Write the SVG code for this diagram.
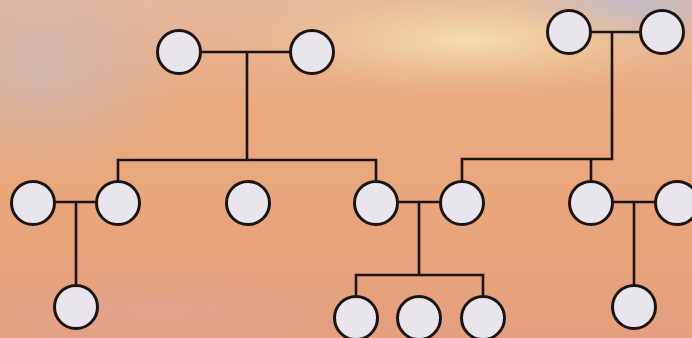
<svg xmlns="http://www.w3.org/2000/svg" width="692" height="338" viewBox="0 0 692 338">
<defs>
<linearGradient id="bg" x1="0" y1="0" x2="0" y2="1">
<stop offset="0" stop-color="#e4b89c"/>
<stop offset="0.3" stop-color="#eaab80"/>
<stop offset="0.7" stop-color="#e8a47a"/>
<stop offset="1" stop-color="#e4a07e"/>
</linearGradient>
<radialGradient id="glow" cx="0.5" cy="0.5" r="0.5">
<stop offset="0" stop-color="#f8e6b4" stop-opacity="0.85"/>
<stop offset="0.55" stop-color="#f4d2a0" stop-opacity="0.45"/>
<stop offset="1" stop-color="#f0c090" stop-opacity="0"/>
</radialGradient>
<radialGradient id="blueL" cx="0.5" cy="0.5" r="0.5">
<stop offset="0" stop-color="#cdb8b4" stop-opacity="0.85"/>
<stop offset="1" stop-color="#d0b4ac" stop-opacity="0"/>
</radialGradient>
<radialGradient id="blueR" cx="0.5" cy="0.5" r="0.5">
<stop offset="0" stop-color="#bcbccc" stop-opacity="0.85"/>
<stop offset="1" stop-color="#c4bcc4" stop-opacity="0"/>
</radialGradient>
<radialGradient id="pink" cx="0.5" cy="0.5" r="0.5">
<stop offset="0" stop-color="#dea4a0" stop-opacity="0.45"/>
<stop offset="1" stop-color="#dea4a0" stop-opacity="0"/>
</radialGradient>
</defs>
<style>
.n{fill:#e8e6ec;stroke:#1c1412;stroke-width:3}
.c{fill:none;stroke:#1c1412;stroke-width:2.6;stroke-linejoin:miter;stroke-linecap:butt}
</style>
<rect width="692" height="338" fill="url(#bg)"/>
<ellipse cx="470" cy="40" rx="240" ry="55" fill="url(#glow)"/>
<ellipse cx="40" cy="70" rx="150" ry="110" fill="url(#blueL)"/>
<ellipse cx="640" cy="5" rx="130" ry="40" fill="url(#blueR)"/>
<ellipse cx="160" cy="310" rx="240" ry="45" fill="url(#pink)"/>
<g id="connectors">
<path class="c" d="M179,52 H312 M247,52 V160 M118,181 V160 H376 V181"/>
<path class="c" d="M569,32 H662 M612,32 V159 H462 V181 M591,159 V181"/>
<path class="c" d="M33,202 H118 M76,202 V286"/>
<path class="c" d="M376,202 H462 M419,202 V275 M356,296 V275 H483 V296"/>
<path class="c" d="M591,202 H677 M634,202 V286"/>
</g>
<g id="n1"><circle class="n" cx="179" cy="52" r="21.5"/></g>
<g id="n2"><circle class="n" cx="312" cy="52" r="21.5"/></g>
<g id="n3"><circle class="n" cx="569" cy="32" r="21.5"/></g>
<g id="n4"><circle class="n" cx="662" cy="32" r="21.5"/></g>
<g id="n5"><circle class="n" cx="33" cy="203" r="21.5"/></g>
<g id="n6"><circle class="n" cx="118" cy="203" r="21.5"/></g>
<g id="n7"><circle class="n" cx="248" cy="203" r="21.5"/></g>
<g id="n8"><circle class="n" cx="376" cy="203" r="21.5"/></g>
<g id="n9"><circle class="n" cx="462" cy="203" r="21.5"/></g>
<g id="n10"><circle class="n" cx="591" cy="203" r="21.5"/></g>
<g id="n11"><circle class="n" cx="677" cy="203" r="21.5"/></g>
<g id="n12"><circle class="n" cx="76" cy="307" r="21.5"/></g>
<g id="n13"><circle class="n" cx="356" cy="318" r="21.5"/></g>
<g id="n14"><circle class="n" cx="419" cy="318" r="21.5"/></g>
<g id="n15"><circle class="n" cx="483" cy="318" r="21.5"/></g>
<g id="n16"><circle class="n" cx="634" cy="307" r="21.5"/></g>
</svg>
